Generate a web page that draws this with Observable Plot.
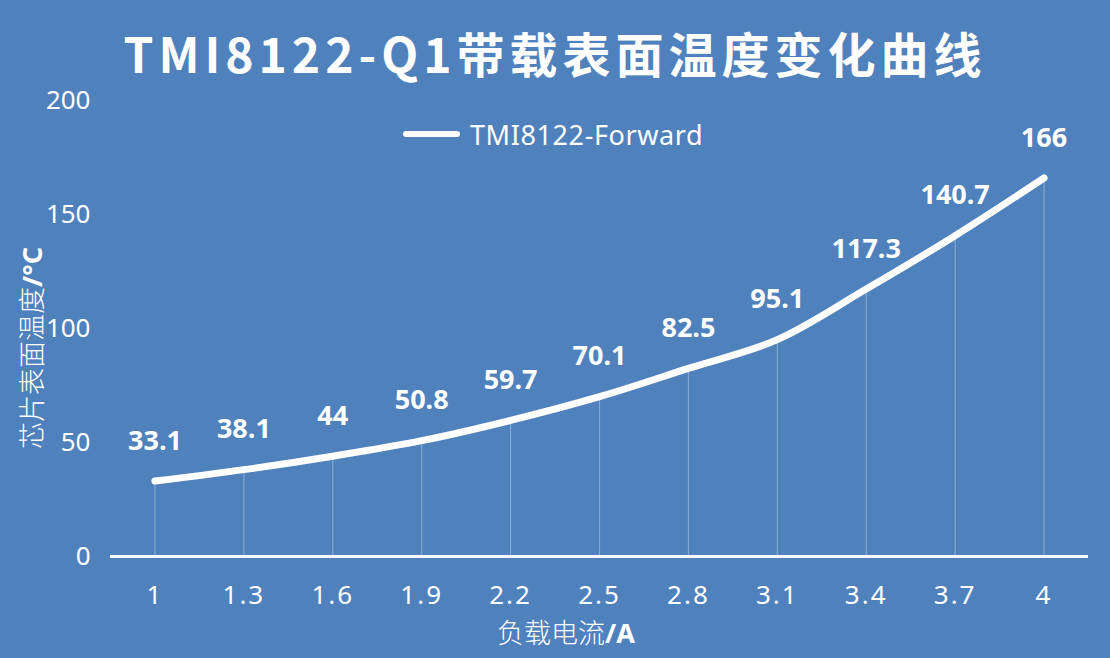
<!DOCTYPE html>
<html><head><meta charset="utf-8">
<script src="https://cdn.jsdelivr.net/npm/d3@7"></script>
<script src="https://cdn.jsdelivr.net/npm/@observablehq/plot@0.6"></script>
<style>
html,body{margin:0;padding:0;background:#4F81BD;}
#wrap{position:relative;width:1110px;height:658px;background:#4F81BD;overflow:hidden;}
#title{position:absolute;left:0;top:22px;width:1110px;text-align:center;color:#fff;font-family:"Noto Sans CJK SC";font-weight:bold;font-size:48px;line-height:60px;letter-spacing:5px;white-space:nowrap}
#legend{position:absolute;left:403px;top:118px;height:32px;display:flex;align-items:center;color:#fff;font-family:"Noto Sans";font-size:27px;letter-spacing:0.6px;white-space:nowrap}
#legend .sw{width:57px;height:6px;border-radius:3px;background:#fff;margin-right:10px}
.axt{position:absolute;color:#fff;font-family:"Noto Sans CJK SC";font-weight:300;font-size:27px;white-space:nowrap;transform:translate(-50%,-50%)}
.axt b{font-family:"Noto Sans";font-weight:bold}
#ytitle{left:30px;top:348px;transform:translate(-50%,-50%) rotate(-90deg)}
#xtitle{left:566px;top:631px;font-size:27px}
#chart svg{position:absolute;left:0;top:0}
#chart [aria-label="x-axis tick label"] text{letter-spacing:2px}
</style>
</head><body>
<div id="wrap">
<div id="chart"></div>
<div id="title">TMI8122-Q1带载表面温度变化曲线</div>
<div id="legend"><div class="sw"></div><span>TMI8122-Forward</span></div>
<div class="axt" id="ytitle">芯片表面温度<b>/°C</b></div>
<div class="axt" id="xtitle">负载电流<b>/A</b></div>
</div>
<script>
const currents = ["1","1.3","1.6","1.9","2.2","2.5","2.8","3.1","3.4","3.7","4"];
const temps = [33.1,38.1,44,50.8,59.7,70.1,82.5,95.1,117.3,140.7,166];
const yTicks = [0,50,100,150,200];
const data = currents.map((c,i)=>({x:c,t:temps[i]}));

const chart = Plot.plot({
  width:1110, height:658,
  marginTop:100, marginBottom:102, marginLeft:110, marginRight:22,
  style:{background:"transparent", color:"#fff", fontFamily:"Noto Sans", fontSize:"26px"},
  x:{type:"point", domain:currents, padding:0.5, round:false, label:null},
  y:{domain:[0,200], label:null},
  marks:[
    Plot.axisY({ticks:yTicks, tickSize:0, tickPadding:20, fontSize:26, label:null}),
    Plot.axisX({tickSize:0, tickPadding:29, fontSize:26, label:null}),
    Plot.ruleX(data,{x:"x", y1:0, y2:"t", stroke:"#fff", strokeOpacity:0.3, strokeWidth:1.2}),
    Plot.ruleY([0],{stroke:"#fff", strokeWidth:3}),
    Plot.line(data,{x:"x", y:"t", stroke:"#fff", strokeWidth:7, curve:"catmull-rom", strokeLinecap:"round", strokeLinejoin:"round"}),
    Plot.text(data,{x:"x", y:"t", text:d=>String(d.t), dy:-40, fill:"#fff", fontWeight:"bold", fontSize:27})
  ]
});
document.getElementById("chart").appendChild(chart);
</script>
</body></html>
